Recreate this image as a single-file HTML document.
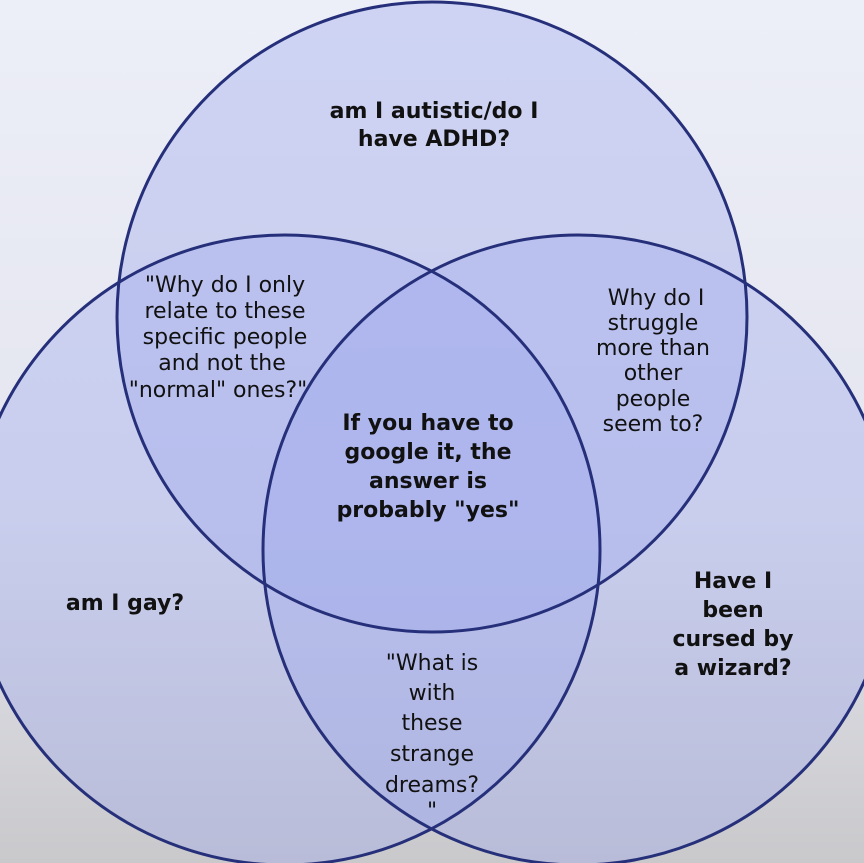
<!DOCTYPE html>
<html><head><style>
body{margin:0;width:864px;height:863px;overflow:hidden;}
svg{display:block}
.b{font-family:"DejaVu Sans","Liberation Sans",sans-serif;font-weight:bold;font-size:22px;fill:#111;}
.n{font-family:"DejaVu Sans","Liberation Sans",sans-serif;font-size:22px;fill:#111;}
</style></head><body>
<svg width="864" height="863" viewBox="0 0 864 863">
<defs>
<linearGradient id="bg" x1="0" y1="0" x2="0" y2="1">
<stop offset="0" stop-color="#eceef8"/><stop offset="0.6" stop-color="#e4e5ee"/><stop offset="1" stop-color="#c9c9cc"/>
</linearGradient>
</defs>
<rect width="864" height="863" fill="url(#bg)"/>
<g fill="#9fa8ec" fill-opacity="0.38" stroke="none">
<circle cx="432" cy="317" r="315"/>
<circle cx="285" cy="550" r="315"/>
<circle cx="578" cy="550" r="315"/>
</g>
<g fill="none" stroke="#26307a" stroke-width="3">
<circle cx="432" cy="317" r="315"/>
<circle cx="285" cy="550" r="315"/>
<circle cx="578" cy="550" r="315"/>
</g>
<g text-anchor="middle">
<text class="b" x="434" y="118">am I autistic/do I</text>
<text class="b" x="434" y="146">have ADHD?</text>
<text class="n" x="225" y="292">"Why do I only</text>
<text class="n" x="225" y="318">relate to these</text>
<text class="n" x="225" y="344">specific people</text>
<text class="n" x="222" y="370">and not the</text>
<text class="n" x="218" y="397">"normal" ones?"</text>
<text class="n" x="656" y="305">Why do I</text>
<text class="n" x="653" y="330">struggle</text>
<text class="n" x="653" y="355">more than</text>
<text class="n" x="653" y="380">other</text>
<text class="n" x="653" y="406">people</text>
<text class="n" x="653" y="431">seem to?</text>
<text class="b" x="428" y="430">If you have to</text>
<text class="b" x="428" y="459">google it, the</text>
<text class="b" x="428" y="488">answer is</text>
<text class="b" x="428" y="517">probably "yes"</text>
<text class="b" x="125" y="610">am I gay?</text>
<text class="b" x="733" y="588">Have I</text>
<text class="b" x="733" y="617">been</text>
<text class="b" x="733" y="646">cursed by</text>
<text class="b" x="733" y="675">a wizard?</text>
<text class="n" x="432" y="670">"What is</text>
<text class="n" x="432" y="700">with</text>
<text class="n" x="432" y="730">these</text>
<text class="n" x="432" y="761">strange</text>
<text class="n" x="432" y="792">dreams?</text>
<text class="n" x="432" y="818">"</text>
</g>
</svg>
</body></html>
